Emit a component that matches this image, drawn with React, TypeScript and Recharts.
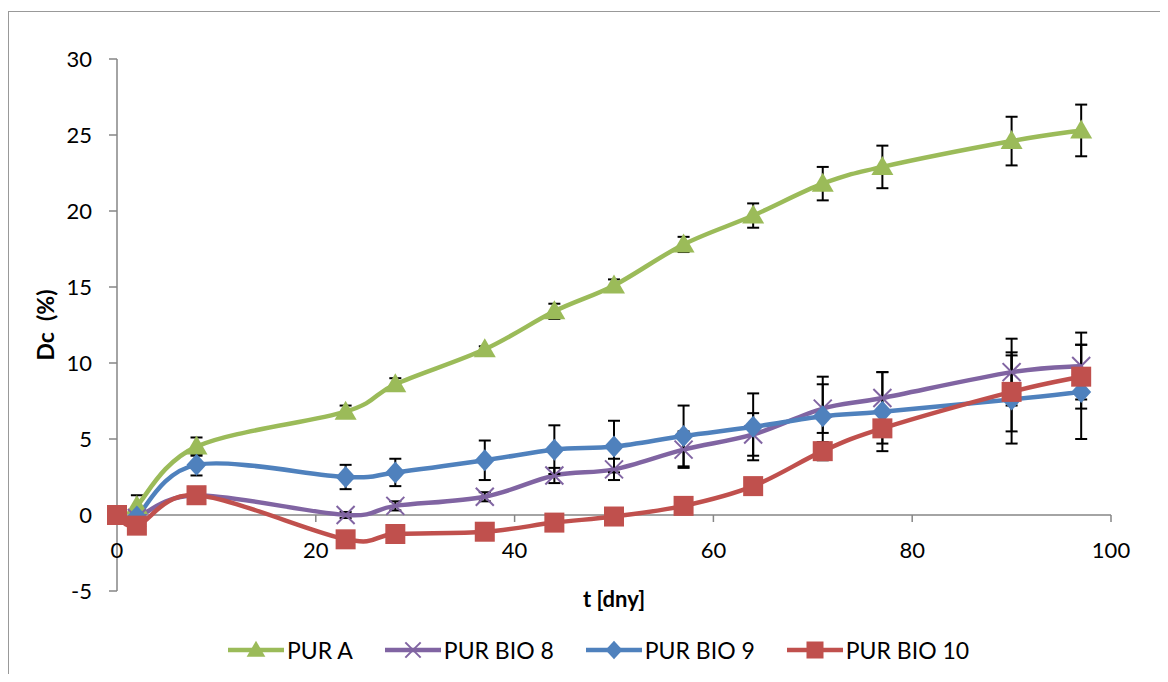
import React from "react";
import {
  ComposedChart,
  ErrorBar,
  Legend,
  Line,
  ReferenceDot,
  ReferenceLine,
  XAxis,
  YAxis,
} from "recharts";

const FONT = "Lato, 'Open Sans', sans-serif";
const AXIS_GRAY = "#868686";

// sampling days (PUR BIO 10 also has a reading at day 0)
const DAYS = [2, 8, 23, 28, 37, 44, 50, 57, 64, 71, 77, 90, 97];
const DAYS_BIO10 = [0, 2, 8, 23, 28, 37, 44, 50, 57, 64, 71, 77, 90, 97];

// Dc (%) means and standard deviations
const PUR_A = [0.6, 4.5, 6.8, 8.6, 10.9, 13.4, 15.1, 17.8, 19.7, 21.8, 22.9, 24.6, 25.3];
const PUR_A_ERR = [0.7, 0.6, 0.4, 0.4, 0.2, 0.5, 0.4, 0.5, 0.8, 1.1, 1.4, 1.6, 1.7];

const BIO8 = [-0.2, 1.3, 0.0, 0.6, 1.2, 2.6, 3.0, 4.3, 5.3, 7.0, 7.7, 9.4, 9.8];
const BIO8_ERR = [0.2, 0.2, 0.2, 0.3, 0.3, 0.5, 0.7, 1.2, 1.4, 1.6, 1.7, 2.2, 2.2];

const BIO9 = [-0.1, 3.3, 2.5, 2.8, 3.6, 4.3, 4.5, 5.2, 5.8, 6.5, 6.8, 7.6, 8.1];
const BIO9_ERR = [0.3, 0.7, 0.8, 0.9, 1.3, 1.6, 1.7, 2.0, 2.2, 2.6, 2.6, 2.9, 3.1];

const BIO10 = [0, -0.7, 1.3, -1.6, -1.25, -1.1, -0.5, -0.1, 0.6, 1.9, 4.2, 5.7, 8.1, 9.1];
const BIO10_ERR = [0, 0.2, 0.2, 0.2, 0.2, 0.2, 0.3, 0.3, 0.3, 0.4, 0.6, 1.0, 2.6, 2.1];

const X_TICKS = [0, 20, 40, 60, 80, 100];
const Y_TICKS = [-5, 0, 5, 10, 15, 20, 25, 30];

type MarkerKind = "triangle" | "cross" | "diamond" | "square";

const zip = (days: number[], vals: number[], errs: number[]) =>
  days.map((t, i) => ({ t, v: vals[i], err: errs[i] }));

const SERIES: { name: string; color: string; marker: MarkerKind; data: { t: number; v: number; err: number }[] }[] = [
  { name: "PUR A", color: "#9BBB59", marker: "triangle", data: zip(DAYS, PUR_A, PUR_A_ERR) },
  { name: "PUR BIO 8", color: "#8064A2", marker: "cross", data: zip(DAYS, BIO8, BIO8_ERR) },
  { name: "PUR BIO 9", color: "#4F81BD", marker: "diamond", data: zip(DAYS, BIO9, BIO9_ERR) },
  { name: "PUR BIO 10", color: "#C0504D", marker: "square", data: zip(DAYS_BIO10, BIO10, BIO10_ERR) },
];

// Bezier smoothing through every point, like spreadsheet "smoothed line"
function smoothCurve(context: any) {
  let pts: [number, number][] = [];
  return {
    areaStart() {},
    areaEnd() {},
    lineStart() {
      pts = [];
    },
    lineEnd() {
      const n = pts.length;
      if (!n) return;
      context.moveTo(pts[0][0], pts[0][1]);
      for (let i = 0; i < n - 1; i++) {
        const p0 = pts[Math.max(i - 1, 0)];
        const p1 = pts[i];
        const p2 = pts[i + 1];
        const p3 = pts[Math.min(i + 2, n - 1)];
        context.bezierCurveTo(
          p1[0] + (p2[0] - p0[0]) / 6,
          p1[1] + (p2[1] - p0[1]) / 6,
          p2[0] - (p3[0] - p1[0]) / 6,
          p2[1] - (p3[1] - p1[1]) / 6,
          p2[0],
          p2[1]
        );
      }
    },
    point(x: number, y: number) {
      pts.push([+x, +y]);
    },
  };
}

function Marker({ kind, cx, cy, color, s = 1 }: { kind: MarkerKind; cx: number; cy: number; color: string; s?: number }) {
  if (cx == null || cy == null) return null;
  if (kind === "triangle") {
    const pts = `${cx},${cy - 11 * s} ${cx + 11 * s},${cy + 8 * s} ${cx - 11 * s},${cy + 8 * s}`;
    return <polygon points={pts} fill={color} />;
  }
  if (kind === "diamond") {
    const pts = `${cx},${cy - 11 * s} ${cx + 10 * s},${cy} ${cx},${cy + 11 * s} ${cx - 10 * s},${cy}`;
    return <polygon points={pts} fill={color} />;
  }
  if (kind === "square") {
    const h = 10 * s;
    return <rect x={cx - h} y={cy - h} width={2 * h} height={2 * h} fill={color} />;
  }
  const d = 9 * s;
  return (
    <g stroke={color} strokeWidth={2}>
      <line x1={cx - d} y1={cy - d} x2={cx + d} y2={cy + d} />
      <line x1={cx - d} y1={cy + d} x2={cx + d} y2={cy - d} />
    </g>
  );
}

function LegendRow() {
  return (
    <div style={{ display: "flex", alignItems: "center", fontFamily: FONT, fontSize: 23, color: "#000", whiteSpace: "nowrap" }}>
      {SERIES.map((s) => (
        <div key={s.name} style={{ display: "flex", alignItems: "center", marginRight: 32 }}>
          <svg width={56} height={26} style={{ display: "block" }}>
            <line x1={0} y1={13} x2={56} y2={13} stroke={s.color} strokeWidth={4.5} />
            <Marker kind={s.marker} cx={28} cy={13} color={s.color} s={0.85} />
          </svg>
          <span style={{ marginLeft: 3, lineHeight: "26px" }}>{s.name}</span>
        </div>
      ))}
    </div>
  );
}

// x-axis drawn along Dc = 0: a short tick plus the day label under it
function ZeroAxisTick(props: any) {
  const { cx, cy, value } = props;
  return (
    <g>
      <line x1={cx} y1={cy} x2={cx} y2={cy + 7} stroke={AXIS_GRAY} strokeWidth={1.5} />
      <text x={cx} y={cy + 34} textAnchor="middle" dominantBaseline="central" fontFamily={FONT} fontSize={22} fill="#000">
        {value}
      </text>
    </g>
  );
}

export default function App() {
  return (
    <div style={{ position: "relative", width: 1160, height: 666, overflow: "hidden", fontFamily: FONT }}>
      <div
        style={{
          position: "absolute",
          left: 0,
          top: 3,
          width: 1200,
          height: 700,
          borderTop: "1.5px solid #999",
          borderLeft: "1.5px solid #999",
        }}
      />
      <ComposedChart width={1160} height={666} margin={{ top: 51, right: 57, bottom: 43, left: 49 }}>
        <XAxis
          type="number"
          dataKey="t"
          domain={[0, 100]}
          ticks={X_TICKS}
          tick={false}
          tickLine={false}
          axisLine={false}
          height={40}
          label={(p: any) => {
            const { x, y, width } = p.viewBox;
            return (
              <text x={x + width / 2} y={y + 7} textAnchor="middle" dominantBaseline="central" fontFamily={FONT} fontSize={22} fontWeight={700} fill="#000">
                t [dny]
              </text>
            );
          }}
        />
        <YAxis
          type="number"
          domain={[-5, 30]}
          ticks={Y_TICKS}
          width={60}
          tickSize={8}
          tickMargin={17}
          axisLine={{ stroke: AXIS_GRAY, strokeWidth: 1.5 }}
          tickLine={{ stroke: AXIS_GRAY, strokeWidth: 1.5 }}
          tick={{ fill: "#000", fontSize: 22, fontFamily: FONT }}
          label={(p: any) => {
            const { x, y, height } = p.viewBox;
            const cx = x - 12;
            const cy = y + height / 2;
            return (
              <text
                x={cx}
                y={cy}
                transform={`rotate(-90, ${cx}, ${cy})`}
                textAnchor="middle"
                dominantBaseline="central"
                fontFamily={FONT}
                fontSize={23}
                fontWeight={700}
                fill="#000"
                style={{ whiteSpace: "pre" }}
              >
                {"Dc  (%)"}
              </text>
            );
          }}
        />
        <ReferenceLine y={0} stroke={AXIS_GRAY} strokeWidth={1.5} />
        {X_TICKS.map((t) => (
          <ReferenceDot key={t} x={t} y={0} r={0} shape={(p: any) => <ZeroAxisTick {...p} value={t} />} />
        ))}
        {SERIES.map((s) => (
          <Line
            key={s.name}
            data={s.data}
            dataKey="v"
            name={s.name}
            type={smoothCurve as any}
            stroke={s.color}
            strokeWidth={4.5}
            dot={(p: any) => <Marker key={`${s.name}-${p.index}`} kind={s.marker} cx={p.cx} cy={p.cy} color={s.color} />}
            activeDot={false}
            isAnimationActive={false}
          >
            <ErrorBar dataKey="err" direction="y" width={6} stroke="#000" strokeWidth={2} />
          </Line>
        ))}
        <Legend
          layout="horizontal"
          verticalAlign="middle"
          align="center"
          content={() => <LegendRow />}
          wrapperStyle={{ left: 220, top: 629, width: "auto", height: 26 }}
        />
      </ComposedChart>
    </div>
  );
}
